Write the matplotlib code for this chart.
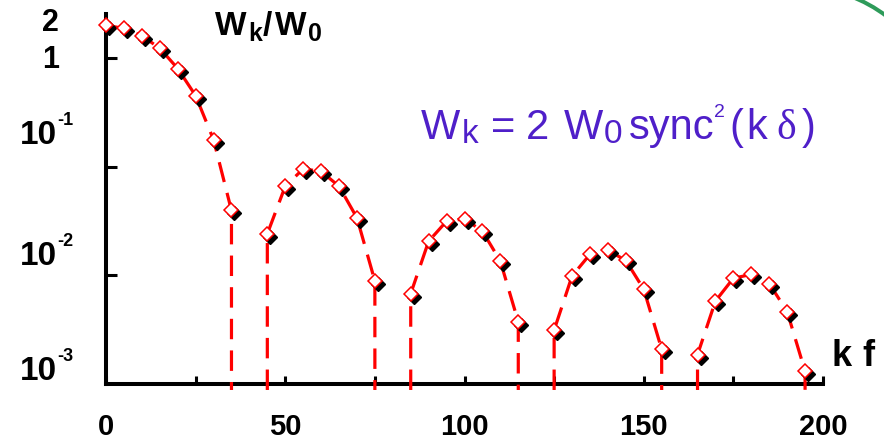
import numpy as np
import matplotlib
matplotlib.use("Agg")
import matplotlib.pyplot as plt
from matplotlib import transforms as mtransforms
from matplotlib.patches import Arc

plt.rcParams["font.family"] = ["Liberation Sans", "DejaVu Sans"]

# ---- data: spectral weights W_k / W_0 versus k f (zeros at the sinc^2 nulls) ----
k_f = [0, 5, 10, 15, 20, 25, 30, 35, 40,
       45, 50, 55, 60, 65, 70, 75, 80,
       85, 90, 95, 100, 105, 110, 115, 120,
       125, 130, 135, 140, 145, 150, 155, 160,
       165, 170, 175, 180, 185, 190, 195, 200]
w_ratio = [2.0, 1.87, 1.60, 1.23, 0.80, 0.45, 0.177, 0.0395, 0.0,
           0.0241, 0.066, 0.0953, 0.0906, 0.066, 0.0338, 0.00887, 0.0,
           0.00679, 0.0206, 0.0315, 0.0331, 0.0255, 0.0135, 0.00373, 0.0,
           0.00313, 0.00986, 0.0156, 0.017, 0.0137, 0.00744, 0.00209, 0.0,
           0.00186, 0.0058, 0.0094, 0.0102, 0.0084, 0.00464, 0.00131, 0.0]

x_major = [0, 50, 100, 150, 200]
x_minor = [25, 75, 125, 175]
y_ticks = [1, 0.1, 0.01]
# y labels: (base, exponent, value it sits beside)
y_labels = [("2", "", 2), ("1", "", 1), ("10", "-1", 0.1),
            ("10", "-2", 0.01), ("10", "-3", 0.001)]

W_PX, H_PX = 884, 443
fig = plt.figure(figsize=(W_PX / 100, H_PX / 100), dpi=100)
ax = fig.add_axes([106 / W_PX, 59 / H_PX, 717 / W_PX, 370 / H_PX])

ax.set_yscale("log")
ax.set_xlim(0, 200)
ax.set_ylim(1e-3, 2.54)
floor = 10 ** -3.055  # dashed drops run just past the axis line

# dashed curve: each null is drawn as vertical drops from the neighbouring samples
xs, ys = [], []
for i, (k, w) in enumerate(zip(k_f, w_ratio)):
    if w > 0:
        xs.append(k)
        ys.append(w)
    else:
        if i > 0:
            xs.append(k_f[i - 1]); ys.append(floor)
        xs.append(np.nan); ys.append(np.nan)
        if i + 1 < len(k_f):
            xs.append(k_f[i + 1]); ys.append(floor)

ax.plot(xs, ys, color="#FF0000", lw=2.3, dashes=(6.4, 3.5),
        clip_on=False, zorder=3)

xm = [k for k, w in zip(k_f, w_ratio) if w > 0]
ym = [w for w in w_ratio if w > 0]
shadow = ax.transData + mtransforms.ScaledTranslation(3 / 100, -3 / 100,
                                                      fig.dpi_scale_trans)
ax.plot(xm, ym, ls="none", marker="D", ms=7, mfc="black", mec="black",
        mew=1.0, transform=shadow, clip_on=False, zorder=4)
ax.plot(xm, ym, ls="none", marker="D", ms=7, mfc="white", mec="#FF0000",
        mew=1.1, clip_on=False, zorder=5)

# axes styling
for side in ("top", "right"):
    ax.spines[side].set_visible(False)
for side in ("left", "bottom"):
    ax.spines[side].set_linewidth(2.9)
    ax.spines[side].set_color("black")

ax.set_xticks(x_major)
ax.set_xticks(x_minor, minor=True)
ax.set_xticklabels([str(v) for v in x_major], fontsize=21, fontweight="bold")
ax.tick_params(axis="x", which="both", direction="in", length=6, width=2.2,
               pad=21)
ax.set_yticks(y_ticks)
ax.yaxis.set_minor_locator(matplotlib.ticker.NullLocator())
ax.set_yticklabels([])
ax.tick_params(axis="y", which="both", direction="in", length=8, width=2.2)

# y labels beside the axis: base text plus a small raised exponent
y_shift = [(-64, -6), (-64, -10), (-86, 23), (-86, 10), (-86, 4)]
for (base, expo, val), (dx, dy) in zip(y_labels, y_shift):
    size = 22 if not expo else 24
    ax.annotate(base, xy=(0, val), xycoords=("axes fraction", "data"),
                xytext=(dx, dy), textcoords="offset pixels",
                ha="left", va="baseline", fontsize=size, fontweight="bold",
                annotation_clip=False)
    if expo:
        ax.annotate(expo, xy=(0, val), xycoords=("axes fraction", "data"),
                    xytext=(dx + 37, dy + 19), textcoords="offset pixels",
                    ha="left", va="baseline", fontsize=13, fontweight="bold",
                    annotation_clip=False)


def fig_xy(px, py):
    return px / W_PX, 1 - py / H_PX


def put_pieces(pieces, color, weight="normal"):
    for txt, px, py, size, fam in pieces:
        fig.text(*fig_xy(px, py), txt, fontsize=size, color=color,
                 family=[fam, "DejaVu Sans"], fontweight=weight,
                 ha="left", va="baseline")


# axis titles
put_pieces([
    ("W", 215, 35, 24, "Liberation Sans"),
    ("k", 248, 41, 18, "Liberation Sans"),
    ("/", 263, 35, 24, "Liberation Sans"),
    ("W", 275, 35, 24, "Liberation Sans"),
    ("0", 308, 41, 18, "Liberation Sans"),
], "black", weight="bold")
put_pieces([
    ("k", 831, 366, 26, "Liberation Sans"),
    ("f", 862, 366, 26, "Liberation Sans"),
], "black", weight="bold")

# formula, set piece by piece
main = 30
put_pieces([
    ("W", 421, 139, main, "Liberation Sans"),
    ("k", 462, 143, 24, "Liberation Sans"),
    ("=", 491, 139, main, "Liberation Sans"),
    ("2", 526, 139, main, "Liberation Sans"),
    ("W", 564, 139, main, "Liberation Sans"),
    ("0", 604, 143, 24, "Liberation Sans"),
    ("sync", 629, 139, main, "Liberation Sans"),
    ("2", 714, 117, 14, "Liberation Sans"),
    ("(", 729, 139, main, "Liberation Sans"),
    ("k", 746, 139, main, "Liberation Sans"),
    ("\u03b4", 776, 139, main, "Liberation Serif"),
    (")", 802, 139, main, "Liberation Sans"),
], "#4F1FC9")

# decorative arc in the upper right corner
arc = Arc((8.00, 3.13), 2.86, 2.86, theta1=35, theta2=70,
          transform=fig.dpi_scale_trans, color="#2E9B5A", lw=2.9)
fig.add_artist(arc)

fig.savefig("out.png", dpi=100)
